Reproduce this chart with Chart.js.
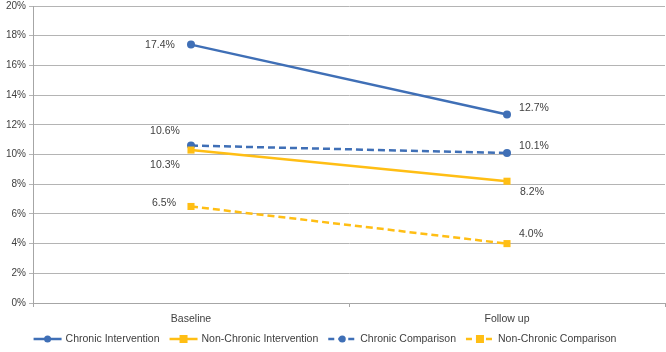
<!DOCTYPE html>
<html><head><meta charset="utf-8">
<script src="https://cdn.jsdelivr.net/npm/chart.js@4.4.1/dist/chart.umd.min.js"></script>
<style>html,body{margin:0;padding:0;background:#fff}#wrap{width:666px;height:352px}</style>
</head><body><div id="wrap"><canvas id="c" width="666" height="352"></canvas></div>
<script>
const categories = ["Baseline", "Follow up"];
const seriesNames = ["Chronic Intervention", "Non-Chronic Intervention", "Chronic Comparison", "Non-Chronic Comparison"];
const chronicIntervention = [17.4, 12.7];
const nonChronicIntervention = [10.3, 8.2];
const chronicComparison = [10.6, 10.1];
const nonChronicComparison = [6.5, 4.0];
const yTicks = [0, 2, 4, 6, 8, 10, 12, 14, 16, 18, 20];

const BLUE = '#3F6FB6', GOLD = '#FFBE14';
const FONT = '"Liberation Sans", Arial, sans-serif';
// label offsets (styling)
const labelOffsets = [
  [[-31, 0], [27, -6]],
  [[-26, 15], [25, 11]],
  [[-26, -14], [27, -7]],
  [[-27, -3], [24, -9]]
];
const styles = [
  {color: BLUE, dash: [], point: 'circle'},
  {color: GOLD, dash: [], point: 'rect'},
  {color: BLUE, dash: [7, 4], point: 'circle'},
  {color: GOLD, dash: [7, 4], point: 'rect'}
];
const values = [chronicIntervention, nonChronicIntervention, chronicComparison, nonChronicComparison];

const datasets = values.map((v, i) => ({
  label: seriesNames[i], data: v,
  borderColor: styles[i].color, backgroundColor: styles[i].color,
  borderWidth: 2.5, borderDash: styles[i].dash,
  pointStyle: styles[i].point,
  pointRadius: styles[i].point === 'rect' ? 5 : 4,
  pointBorderWidth: 0, tension: 0
}));

const labelPlugin = {
  id: 'labels',
  afterDatasetsDraw(chart) {
    const ctx = chart.ctx;
    ctx.save();
    ctx.font = '10.5px ' + FONT;
    ctx.fillStyle = '#404040';
    ctx.textAlign = 'center'; ctx.textBaseline = 'middle';
    chart.data.datasets.forEach((ds, i) => {
      const meta = chart.getDatasetMeta(i);
      meta.data.forEach((pt, j) => {
        const o = labelOffsets[i][j];
        ctx.fillText(ds.data[j].toFixed(1) + '%', pt.x + o[0], pt.y + o[1]);
      });
    });
    ctx.restore();
  }
};

const legendPlugin = {
  id: 'customLegend',
  afterDraw(chart) {
    const ctx = chart.ctx;
    ctx.save();
    ctx.font = '10.5px ' + FONT;
    ctx.textBaseline = 'middle';
    const y = 339, lineW = 28, gapA = 4, gapB = 10;
    let widths = seriesNames.map(n => lineW + gapA + ctx.measureText(n).width);
    let total = widths.reduce((a, b) => a + b, 0) + gapB * (seriesNames.length - 1);
    let x = 325 - total / 2;
    seriesNames.forEach((n, i) => {
      const s = styles[i];
      ctx.strokeStyle = s.color; ctx.fillStyle = s.color; ctx.lineWidth = 2.5;
      ctx.setLineDash(s.dash.length ? [6, 4] : []);
      ctx.beginPath(); ctx.moveTo(x, y); ctx.lineTo(x + lineW, y); ctx.stroke();
      ctx.setLineDash([]);
      const cx = x + lineW / 2;
      if (s.point === 'circle') { ctx.beginPath(); ctx.arc(cx, y, 3.5, 0, Math.PI * 2); ctx.fill(); }
      else { ctx.fillRect(cx - 4, y - 4, 8, 8); }
      ctx.fillStyle = '#404040';
      ctx.fillText(n, x + lineW + gapA, y);
      x += widths[i] + gapB;
    });
    ctx.restore();
  }
};

new Chart(document.getElementById('c'), {
  type: 'line',
  data: { labels: categories, datasets },
  options: {
    responsive: false, animation: false,
    layout: { autoPadding: false, padding: { top: 6, right: 1, bottom: 24, left: 0 } },
    plugins: { legend: { display: false }, tooltip: { enabled: false } },
    scales: {
      x: {
        offset: true,
        grid: { offset: true, drawOnChartArea: false, drawTicks: true, tickLength: 4, color: '#A6A6A6' },
        border: { color: '#A6A6A6', width: 1 },
        ticks: { color: '#404040', font: { family: FONT, size: 10.5 }, padding: 6 },
        afterFit(s) { s.height = 25; s.paddingRight = 0; s.paddingLeft = 0; }
      },
      y: {
        min: 0, max: 20,
        afterBuildTicks(s) { s.ticks = yTicks.map(v => ({ value: v })); },
        grid: { color: '#B4B4B4', lineWidth: 1, tickLength: 4 },
        border: { color: '#A6A6A6', width: 1 },
        ticks: { color: '#404040', font: { family: FONT, size: 10 }, padding: 3, callback: v => v + '%' },
        afterFit(s) { s.width = 33; s.paddingTop = 0; s.paddingBottom = 0; }
      }
    }
  },
  plugins: [labelPlugin, legendPlugin]
});
</script></body></html>
